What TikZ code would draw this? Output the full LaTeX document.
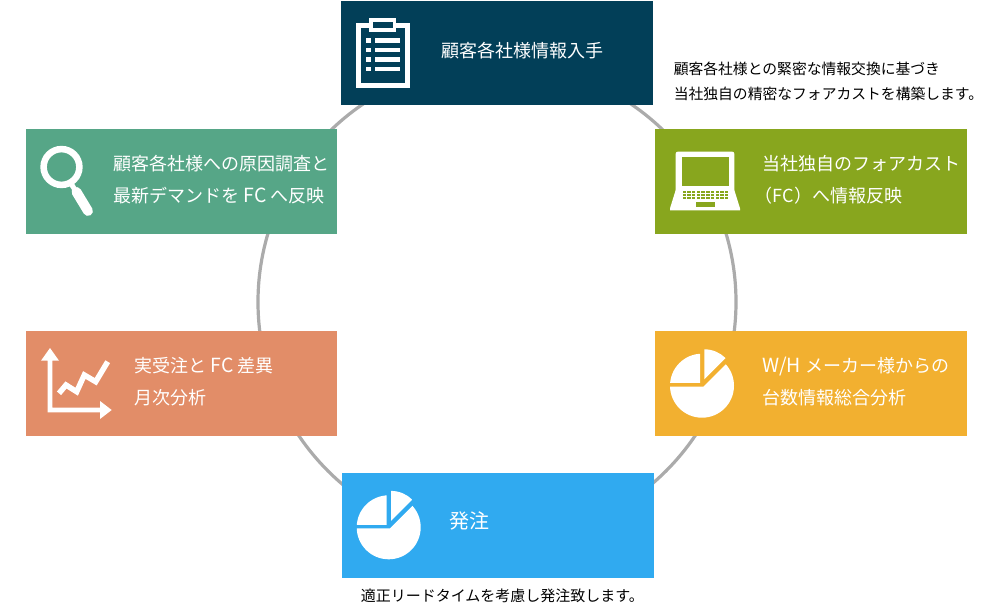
\documentclass[tikz,border=0pt]{standalone}
\usepackage{fontspec}
\setmainfont{Noto Sans CJK JP}
\definecolor{cnavy}{HTML}{023F58}
\definecolor{cteal}{HTML}{56A687}
\definecolor{colive}{HTML}{88A61E}
\definecolor{csalmon}{HTML}{E28D68}
\definecolor{camber}{HTML}{F2B030}
\definecolor{cblue}{HTML}{30AAF0}
\definecolor{cring}{HTML}{ABABAB}
\newcommand{\lat}[1]{{\fontsize{14.6}{24}\selectfont #1}}
\tikzset{
  stagebox/.style={inner sep=0pt,outer sep=0pt,minimum height=78.75pt,minimum width=234pt},
  boxlabel/.style={anchor=west,inner sep=0pt,align=left,text=white,font=\fontsize{13.5}{24}\selectfont},
  notelabel/.style={anchor=west,inner sep=0pt,align=left,text=black,font=\fontsize{11.1}{18.75}\selectfont},
  pics/pieicon/.style={code={
    \begin{scope}
      \clip (-62,1) -- (1.3,1) -- (58,-55.7) -- (58,64) -- (-62,64) -- cycle;
      \fill[white] (0,0) circle[radius=32];
    \end{scope}
    \begin{scope}
      \clip (-42,-3) -- (-2,-3) -- (-2,-45) -- (-42,-45) -- cycle;
      \fill[white] (0,0) circle[radius=32];
    \end{scope}
    \begin{scope}
      \clip (2.3,-6.4) -- (2.3,-45) -- (40.9,-45) -- cycle;
      \fill[white] (2.3,-6.4) circle[radius=30];
    \end{scope}
  }}
}
\begin{document}
\begin{tikzpicture}[x=0.75pt,y=-0.75pt]
\useasboundingbox (0,0) rectangle (1000,606);
% ring
\coordinate (ringc) at (497,302);
\draw[cring,line width=2.4pt] (ringc) circle[radius=239];
% boxes
\node[stagebox,fill=cnavy,minimum height=78pt] (top) at (497,53) {};
\node[stagebox,fill=cteal,minimum width=233.25pt] (lefta) at (181.5,181.5) {};
\node[stagebox,fill=colive] (righta) at (811,181.5) {};
\node[stagebox,fill=csalmon,minimum width=233.25pt] (leftb) at (181.5,383.5) {};
\node[stagebox,fill=camber] (rightb) at (811,383.5) {};
\node[stagebox,fill=cblue] (bottom) at (498,525.5) {};
% labels
\node[boxlabel] (ttop) at (441,50.5) {顧客各社様情報入手};
\node[boxlabel] (tlefta) at (113.5,179.5) {顧客各社様への原因調査と\\最新デマンドを \lat{FC} へ反映};
\node[boxlabel] (trighta) at (762.5,179.5) {当社独自のフォアカスト\\\hspace*{-6pt}（FC）へ情報反映};
\node[boxlabel] (tleftb) at (134.5,381.5) {実受注と \lat{FC} 差異\\月次分析};
\node[boxlabel] (trightb) at (762.5,381.5) {\lat{W/H} メーカー様からの\\台数情報総合分析};
\node[boxlabel,font=\fontsize{15}{24}\selectfont] (tbottom) at (449,521) {発注};
\node[notelabel] (nright) at (673.5,81.5) {顧客各社様との緊密な情報交換に基づき\\当社独自の精密なフォアカストを構築します。};
\node[notelabel,font=\fontsize{11.25}{18.75}\selectfont] (nbottom) at (360.5,596) {適正リードタイムを考慮し発注致します。};
% clipboard icon
\draw[white,line width=3.9pt] (358.6,25.6) rectangle (407.4,85.4);
\fill[white] (369,18) rectangle (396,32);
\fill[cnavy] (373,22) rectangle (393,28);
\foreach \yy in {40.7,50,59.5,69}{
  \fill[white] (366,\yy-2.4) rectangle (371,\yy+2.4);
  \fill[white] (375,\yy-2.2) rectangle (400,\yy+2.2);
}
% magnifier icon
\draw[white,line width=4.9pt] (61.5,167) circle[radius=17.9];
\draw[white,line width=3.8pt] (70,182) -- (77,193);
\draw[white,line width=7.4pt,line cap=round] (76.5,192) -- (88,211);
% laptop icon
\fill[white,rounded corners=1.5pt] (675.7,151.7) -- (734.3,151.7) -- (734.3,192) -- (675.7,192) -- cycle;
\fill[white] (675.7,190) -- (734.3,190) -- (740,208.3) -- (740,210.5) -- (670,210.5) -- (670,208.3) -- cycle;
\fill[colive] (681.7,157.3) rectangle (729.3,185.7);
\fill[colive] (695.7,202.3) rectangle (715,207);
\foreach \rr in {0,1,2}{
  \foreach \cc in {0,...,9}{
    \fill[colive] (682.6+\cc*4.7,191+\rr*3) rectangle ++(3.4,2);
  }
}
% chart icon
\fill[white] (50,348) -- (59,360.7) -- (52.3,360.7) -- (52.3,407.7) -- (100,407.7) -- (100,401) -- (111.7,410) -- (100,419) -- (100,412.3) -- (47.7,412.3) -- (47.7,360.7) -- (41,360.7) -- cycle;
\draw[white,line width=4.1pt] (59,393.3) -- (66,385) -- (76.7,391.7) -- (84.3,375) -- (95.7,381.7) -- (107.7,361.7);
% pie icons
\path (702,385.7) pic {pieicon};
\path (388.7,527.3) pic {pieicon};
\end{tikzpicture}
\end{document}
